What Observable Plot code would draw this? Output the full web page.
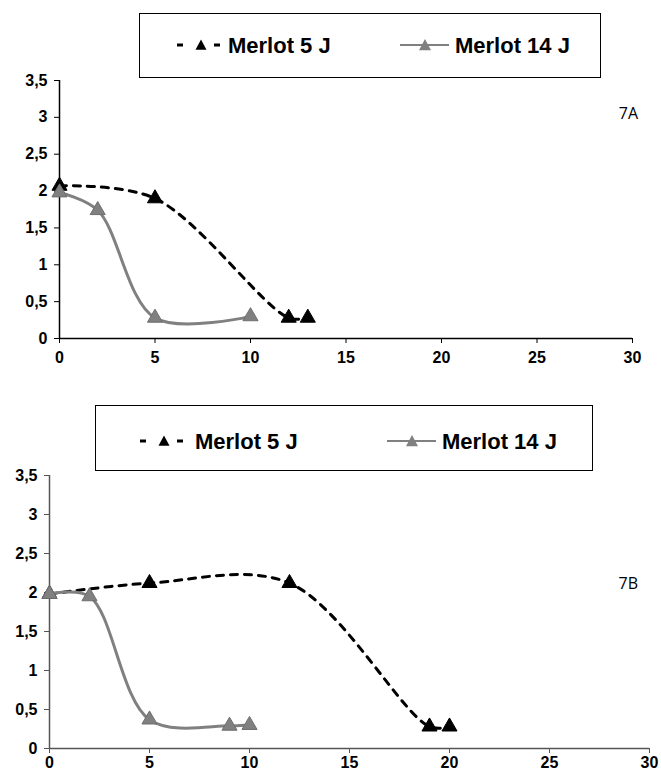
<!DOCTYPE html>
<html><head><meta charset="utf-8">
<script src="https://cdn.jsdelivr.net/npm/d3@7"></script>
<script src="https://cdn.jsdelivr.net/npm/@observablehq/plot@0.6"></script>
<style>
body{margin:0;background:#fff;}
#page{position:relative;width:661px;height:774px;overflow:hidden;font-family:"Liberation Sans",Arial,sans-serif;}
#page > svg{position:absolute;}
#overlay{position:absolute;left:0;top:0;pointer-events:none;}
</style></head>
<body><div id="page"></div>
<script>
// ---- data ----
const xTicks = [0, 5, 10, 15, 20, 25, 30];
const yTicks = [0, 0.5, 1, 1.5, 2, 2.5, 3, 3.5];
const seriesNames = ["Merlot 5 J", "Merlot 14 J"];
const panelLabels = ["7A", "7B"];

const a5x = [0, 5, 12, 13];
const a5y = [2.07, 1.9, 0.28, 0.28];
const a14x = [0, 2, 5, 10];
const a14y = [1.98, 1.74, 0.28, 0.3];

const b5x = [0, 5, 12, 19, 20];
const b5y = [1.98, 2.12, 2.12, 0.28, 0.28];
const b14x = [0, 2, 5, 9, 10];
const b14y = [1.98, 1.95, 0.37, 0.29, 0.3];

const BLACK = "#000000", GRAY = "#808080";
const toRows = (xs, ys) => xs.map((x, i) => ({x, y: ys[i]}));

function chart({d5, d14, top, height, mt, mb, ml, mr, axisColor, pad}) {
  const p = Plot.plot({
    width: 661, height,
    marginTop: mt, marginBottom: mb, marginLeft: ml, marginRight: mr,
    x: {domain: [0, 30]},
    y: {domain: [0, 3.5]},
    style: {fontFamily: "'Liberation Sans', Arial, sans-serif", fontSize: "16px", fontWeight: "bold", color: "#000", background: "transparent", overflow: "visible"},
    marks: [
      Plot.ruleY([0], {stroke: axisColor, strokeWidth: 1.5}),
      Plot.ruleX([0], {stroke: axisColor, strokeWidth: 1.5}),
      Plot.axisX(xTicks, {tickSize: 5, tickPadding: pad, stroke: axisColor, tickFormat: d => String(d), fontWeight: "bold", fontSize: 16, label: null}),
      Plot.axisY(yTicks, {tickSize: 5, tickPadding: 7, stroke: axisColor, tickFormat: d => String(d).replace(".", ","), fontWeight: "bold", fontSize: 16, label: null}),
      Plot.line(d5, {x: "x", y: "y", curve: "catmull-rom", stroke: BLACK, strokeWidth: 3, strokeDasharray: "7,7"}),
      Plot.dot(d5, {x: "x", y: "y", symbol: "triangle", r: 5.6, fill: BLACK, stroke: BLACK, strokeWidth: 1}),
      Plot.line(d14, {x: "x", y: "y", curve: "catmull-rom", stroke: GRAY, strokeWidth: 3}),
      Plot.dot(d14, {x: "x", y: "y", symbol: "triangle", r: 5.6, fill: GRAY, stroke: "#6e6e6e", strokeWidth: 1})
    ]
  });
  p.style.left = "0px";
  p.style.top = top + "px";
  return p;
}

const page = document.getElementById("page");
page.appendChild(chart({d5: toRows(a5x, a5y), d14: toRows(a14x, a14y), top: 70, height: 300, mt: 10, mb: 32, ml: 59, mr: 29, axisColor: "#000", pad: 8}));
page.appendChild(chart({d5: toRows(b5x, b5y), d14: toRows(b14x, b14y), top: 465, height: 309, mt: 10, mb: 26, ml: 49, mr: 12, axisColor: "#555", pad: 3}));

// ---- legends & panel labels (overlay) ----
const ns = "http://www.w3.org/2000/svg";
const ov = document.createElementNS(ns, "svg");
ov.setAttribute("id", "overlay");
ov.setAttribute("width", 661);
ov.setAttribute("height", 774);
page.appendChild(ov);
function el(tag, attrs, text) {
  const e = document.createElementNS(ns, tag);
  for (const k in attrs) e.setAttribute(k, attrs[k]);
  if (text != null) e.textContent = text;
  ov.appendChild(e);
  return e;
}
const tri = (cx, cy, w, fill) => el("path", {d: `M${cx - w/2},${cy + w*0.43}L${cx},${cy - w*0.5}L${cx + w/2},${cy + w*0.43}Z`, fill});

function legend(L) {
  el("rect", {x: L.bx + 0.5, y: L.by + 0.5, width: L.bw, height: L.bh, fill: "none", stroke: "#000", "stroke-width": 1});
  const cy = L.cy;
  el("rect", {x: L.s1, y: cy - 1.5, width: 6, height: 3, fill: BLACK});
  tri(L.s1 + 24, cy, 11, BLACK);
  el("rect", {x: L.s1 + 37, y: cy - 1.5, width: 6, height: 3, fill: BLACK});
  el("text", {x: L.t1, y: cy + 8, "font-family": "'Liberation Sans', Arial, sans-serif", "font-size": 22, "font-weight": "bold", fill: "#000"}, seriesNames[0]);
  el("line", {x1: L.s2, x2: L.s2 + 49, y1: cy, y2: cy, stroke: GRAY, "stroke-width": 2});
  tri(L.s2 + 25, cy, 12, GRAY);
  el("text", {x: L.t2, y: cy + 8, "font-family": "'Liberation Sans', Arial, sans-serif", "font-size": 22, "font-weight": "bold", fill: "#000"}, seriesNames[1]);
}
legend({bx: 139, by: 13, bw: 461, bh: 64, cy: 45, s1: 177, t1: 228, s2: 400, t2: 455});
legend({bx: 95, by: 405, bw: 497, bh: 65, cy: 441, s1: 140, t1: 195, s2: 387, t2: 442});

el("text", {x: 638, y: 119, "text-anchor": "end", "font-family": "'Open Sans', sans-serif", "font-size": 16, fill: "#000"}, panelLabels[0]);
el("text", {x: 638, y: 589, "text-anchor": "end", "font-family": "'Open Sans', sans-serif", "font-size": 16, fill: "#000"}, panelLabels[1]);
</script>
</body></html>
